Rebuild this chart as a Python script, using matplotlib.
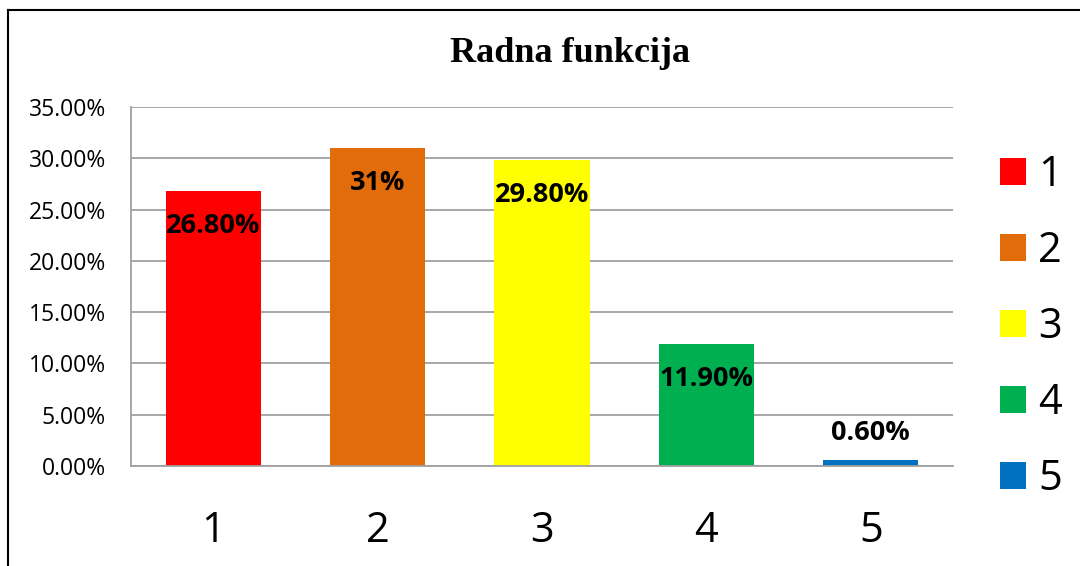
import matplotlib
matplotlib.use("Agg")
import matplotlib.pyplot as plt
from matplotlib.lines import Line2D
from matplotlib.patches import Patch
from matplotlib.ticker import FuncFormatter

categories = ["1", "2", "3", "4", "5"]
values = [26.8, 31.0, 29.8, 11.9, 0.6]
value_labels = ["26.80%", "31%", "29.80%", "11.90%", "0.60%"]
colors = ["#FF0000", "#E36C0A", "#FFFF00", "#00B050", "#0070C0"]
y_ticks = [0, 5, 10, 15, 20, 25, 30, 35]

plt.rcParams["font.family"] = ["Open Sans", "DejaVu Sans"]

fig = plt.figure(figsize=(10.8, 5.66), dpi=100)
ax = fig.add_axes([0.1213, 0.1767, 0.7611, 0.6343])

x = range(len(categories))
bars = ax.bar(x, values, width=0.58, color=colors, zorder=2)

ax.set_ylim(0, 35)
ax.set_xlim(-0.5, len(categories) - 0.5)
ax.set_yticks(y_ticks)
ax.yaxis.set_major_formatter(FuncFormatter(lambda v, _: f"{v:.2f}%"))
ax.set_xticks(list(x))
ax.set_xticklabels(categories, fontsize=30)
ax.tick_params(axis="y", labelsize=16.5, length=0, pad=18)
ax.tick_params(axis="x", length=0, pad=32)
ax.grid(axis="y", color="#A0A0A0", linewidth=1.3, zorder=0)

for side in ["top", "right"]:
    ax.spines[side].set_visible(False)
for side in ["left", "bottom"]:
    ax.spines[side].set_color("#A0A0A0")
    ax.spines[side].set_linewidth(1.3)

# data labels: inside end, or above if the bar is too short
for b, v, lab in zip(bars, values, value_labels):
    cx = b.get_x() + b.get_width() / 2
    dy = -25 if v > 5 else 19
    ax.annotate(lab, (cx, v), xytext=(0, dy), textcoords="offset points",
                ha="center", va="center", fontsize=19.5, fontweight="bold")

fig.text(0.528, 0.906, "Radna funkcija", ha="center", va="center",
         fontsize=26, fontweight="bold", family="Liberation Serif")

handles = [Patch(facecolor=c, edgecolor="none") for c in colors]
fig.legend(handles, categories, loc="center left", bbox_to_anchor=(0.926, 0.422),
           frameon=False, fontsize=30, handlelength=0.62, handleheight=0.62,
           handletextpad=0.3, labelspacing=0.82, borderaxespad=0, borderpad=0)

# outer chart border (left and top visible)
fig.add_artist(Line2D([8 / 1080, 8 / 1080], [0, 1 - 10 / 566], color="black", linewidth=1.5))
fig.add_artist(Line2D([8 / 1080, 1], [1 - 10 / 566, 1 - 10 / 566], color="black", linewidth=1.5))

fig.savefig("out.png", dpi=100)
